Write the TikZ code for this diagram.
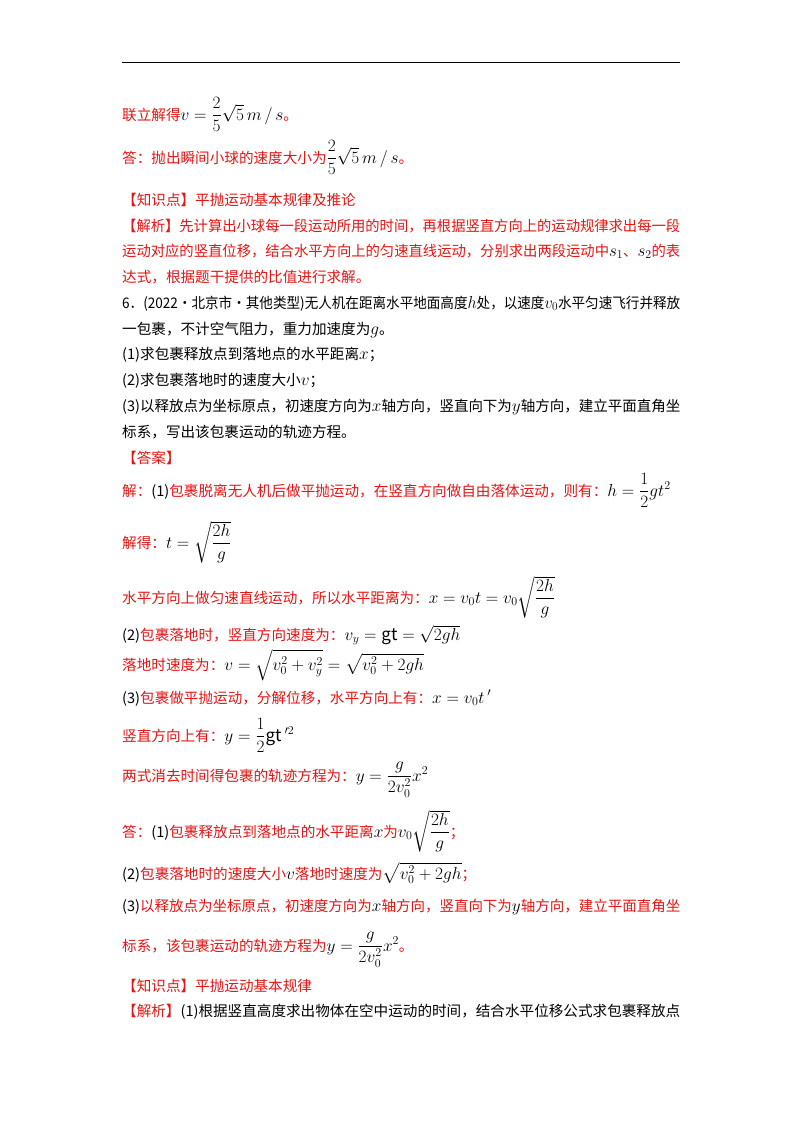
\documentclass[tikz,border=0pt]{standalone}
\usepackage{fontspec}
\usepackage{amsmath}
\usepackage{graphicx}
\setmainfont{Noto Sans CJK SC}
\DeclareMathSizes{14.6}{17}{12}{10}
\definecolor{rd}{RGB}{230,20,20}
\newcommand{\R}[1]{\textcolor{rd}{#1}}
\newcommand{\J}[1]{\resizebox{558pt}{\height}{#1}}
\begin{document}
\begin{tikzpicture}[x=1pt,y=-1pt,ln/.style={anchor=base west,inner sep=0pt,font=\fontsize{14.6}{18}\selectfont}]
\useasboundingbox (0,0) rectangle (800,1132);
\draw[line width=0.8pt] (122,62) -- (680,62);
\node[ln] (l1) at (122,120) {\R{联立解得}$v=\dfrac{2}{5}\sqrt{5}\,m\,/\,s$\R{。}};
\node[ln] (l2) at (122,163) {\R{答：抛出瞬间小球的速度大小为}$\dfrac{2}{5}\sqrt{5}\,m\,/\,s$\R{。}};
\node[ln] (l3) at (122,205) {\R{【知识点】平抛运动基本规律及推论}};
\node[ln] (l4) at (122,231) {\J{\R{【解析】先计算出小球每一段运动所用的时间，再根据竖直方向上的运动规律求出每一段}}};
\node[ln] (l5) at (122,256) {\J{\R{运动对应的竖直位移，结合水平方向上的匀速直线运动，分别求出两段运动中}$s_1$\R{、}$s_2$\R{的表}}};
\node[ln] (l6) at (122,282) {\R{达式，根据题干提供的比值进行求解。}};
\node[ln] (l7) at (122,308) {\J{6．(2022·北京市·其他类型)无人机在距离水平地面高度$h$处，以速度$v_0$水平匀速飞行并释放}};
\node[ln] (l8) at (122,334) {一包裹，不计空气阻力，重力加速度为$g$。};
\node[ln] (l9) at (122,359) {(1)求包裹释放点到落地点的水平距离$x$；};
\node[ln] (l10) at (122,385) {(2)求包裹落地时的速度大小$v$；};
\node[ln] (l11) at (122,411) {\J{(3)以释放点为坐标原点，初速度方向为$x$轴方向，竖直向下为$y$轴方向，建立平面直角坐}};
\node[ln] (l12) at (122,437) {标系，写出该包裹运动的轨迹方程。};
\node[ln] (l13) at (122,463) {\R{【答案】}};
\node[ln] (l14) at (122,496) {\R{解：}(1)\R{包裹脱离无人机后做平抛运动，在竖直方向做自由落体运动，则有：}$h=\dfrac{1}{2}g t^2$};
\node[ln] (l15) at (122,548) {\R{解得：}$t=\sqrt{\dfrac{2h}{g}}$};
\node[ln] (l16) at (122,603) {\R{水平方向上做匀速直线运动，所以水平距离为：}$x=v_0t=v_0\sqrt{\dfrac{2h}{g}}$};
\node[ln] (l17) at (122,640) {(2)\R{包裹落地时，竖直方向速度为：}$v_y=\mathrm{gt}=\sqrt{2gh}$};
\node[ln] (l18) at (122,670) {\R{落地时速度为：}$v=\sqrt{v_0^2+v_y^2}=\sqrt{v_0^2+2gh}$};
\node[ln] (l19) at (122,703) {(3)\R{包裹做平抛运动，分解位移，水平方向上有：}$x=v_0t\,'$};
\node[ln] (l20) at (122,741) {\R{竖直方向上有：}$y=\dfrac{1}{2}\mathrm{gt}\,'^2$};
\node[ln] (l21) at (122,781) {\R{两式消去时间得包裹的轨迹方程为：}$y=\dfrac{g}{2v_0^2}x^2$};
\node[ln] (l22) at (122,837) {\R{答：}(1)\R{包裹释放点到落地点的水平距离}$x$\R{为}$v_0\sqrt{\dfrac{2h}{g}}$\R{；}};
\node[ln] (l23) at (122,879) {(2)\R{包裹落地时的速度大小}$v$\R{落地时速度为}$\sqrt{v_0^2+2gh}$\R{；}};
\node[ln] (l24) at (122,911) {\J{(3)\R{以释放点为坐标原点，初速度方向为}$x$\R{轴方向，竖直向下为}$y$\R{轴方向，建立平面直角坐}}};
\node[ln] (l25) at (122,951) {\R{标系，该包裹运动的轨迹方程为}$y=\dfrac{g}{2v_0^2}x^2$\R{。}};
\node[ln] (l26) at (122,991) {\R{【知识点】平抛运动基本规律}};
\node[ln] (l27) at (122,1016) {\J{\R{【解析】}(1)根据竖直高度求出物体在空中运动的时间，结合水平位移公式求包裹释放点}};
\end{tikzpicture}
\end{document}
